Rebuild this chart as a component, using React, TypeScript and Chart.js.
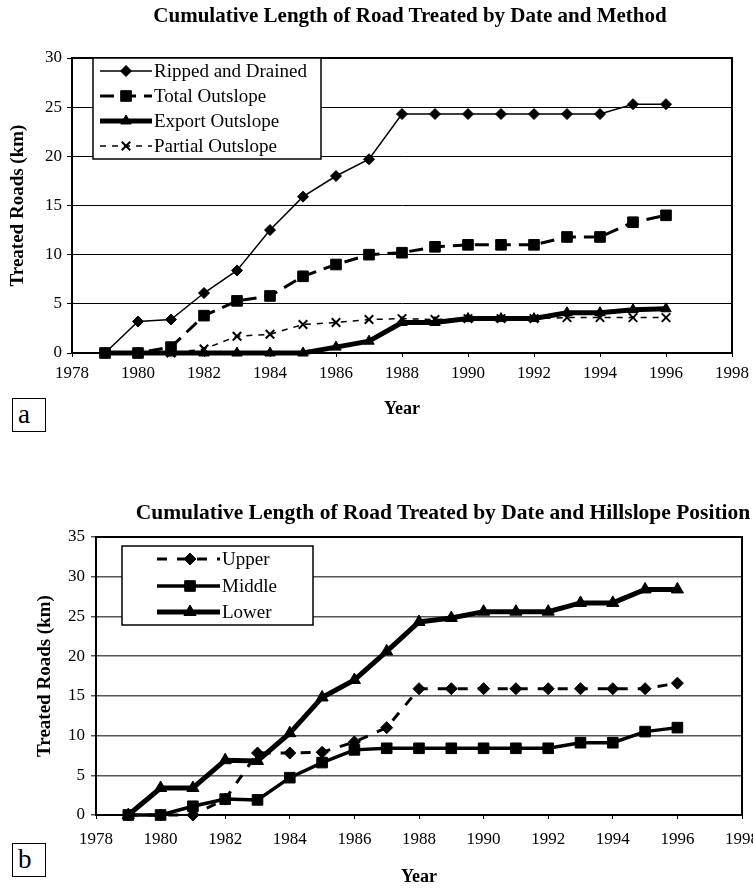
import React, { useEffect, useRef } from 'react';
import { Chart, registerables } from 'chart.js';
import { drawPoint } from 'chart.js/helpers';

Chart.register(...registerables);

// ---------- data ----------
const years = [1979, 1980, 1981, 1982, 1983, 1984, 1985, 1986, 1987, 1988, 1989, 1990, 1991, 1992, 1993, 1994, 1995, 1996];

const rippedAndDrained = [0, 3.2, 3.4, 6.1, 8.4, 12.5, 15.9, 18.0, 19.7, 24.3, 24.3, 24.3, 24.3, 24.3, 24.3, 24.3, 25.3, 25.3];
const totalOutslope = [0, 0, 0.6, 3.8, 5.3, 5.8, 7.8, 9.0, 10.0, 10.2, 10.8, 11.0, 11.0, 11.0, 11.8, 11.8, 13.3, 14.0];
const exportOutslope = [0, 0, 0, 0, 0, 0, 0, 0.6, 1.2, 3.1, 3.1, 3.5, 3.5, 3.5, 4.1, 4.1, 4.4, 4.5];
const partialOutslope = [0, 0, 0, 0.4, 1.7, 1.9, 2.9, 3.1, 3.4, 3.5, 3.4, 3.5, 3.5, 3.5, 3.6, 3.6, 3.6, 3.6];

const upperSlope = [0, 0, 0, 2.0, 7.8, 7.8, 7.9, 9.2, 11.0, 15.9, 15.9, 15.9, 15.9, 15.9, 15.9, 15.9, 15.9, 16.6];
const middleSlope = [0, 0, 1.1, 2.0, 1.9, 4.7, 6.6, 8.2, 8.4, 8.4, 8.4, 8.4, 8.4, 8.4, 9.1, 9.1, 10.5, 11.0];
const lowerSlope = [0, 3.4, 3.4, 6.9, 6.8, 10.3, 14.8, 17.0, 20.6, 24.3, 24.8, 25.6, 25.6, 25.6, 26.7, 26.7, 28.4, 28.4];

const xTickValues = [1978, 1980, 1982, 1984, 1986, 1988, 1990, 1992, 1994, 1996, 1998];

const titleA = 'Cumulative Length of Road Treated by Date and Method';
const titleB = 'Cumulative Length of Road Treated by Date and Hillslope Position';

const FONT = "'Liberation Serif', 'DejaVu Serif', serif";

const pts = (vals: number[]) => years.map((y, i) => ({ x: y, y: vals[i] }));

// ---------- plugins ----------
const framePlugin = {
  id: 'frame',
  afterDatasetsDraw(chart: any, _a: any, opts: any) {
    const { ctx, chartArea } = chart;
    ctx.save();
    ctx.strokeStyle = '#000';
    ctx.lineWidth = opts.width || 2;
    ctx.setLineDash([]);
    ctx.beginPath();
    ctx.moveTo(chartArea.left, chartArea.top);
    ctx.lineTo(chartArea.right, chartArea.top);
    ctx.lineTo(chartArea.right, chartArea.bottom);
    ctx.stroke();
    ctx.restore();
  },
};

const boxLegendPlugin = {
  id: 'boxLegend',
  afterDraw(chart: any, _a: any, o: any) {
    if (!o || !o.box) return;
    const { ctx } = chart;
    const [bx, by, bw, bh] = o.box;
    ctx.save();
    ctx.fillStyle = '#fff';
    ctx.fillRect(bx, by, bw, bh);
    ctx.strokeStyle = '#000';
    ctx.lineWidth = 1.5;
    ctx.setLineDash([]);
    ctx.strokeRect(bx, by, bw, bh);
    ctx.font = o.font;
    ctx.textBaseline = 'middle';
    ctx.textAlign = 'left';
    chart.data.datasets.forEach((ds: any, i: number) => {
      const ry = o.rows[i];
      ctx.strokeStyle = '#000';
      ctx.fillStyle = '#000';
      ctx.lineWidth = ds.borderWidth;
      ctx.setLineDash(ds.borderDash || []);
      ctx.beginPath();
      ctx.moveTo(o.lineX[0], ry);
      ctx.lineTo(o.lineX[1], ry);
      ctx.stroke();
      ctx.setLineDash([]);
      ctx.lineWidth = ds.pointBorderWidth;
      drawPoint(ctx, { pointStyle: ds.pointStyle, radius: ds.pointRadius, rotation: 0, borderWidth: ds.pointBorderWidth } as any, o.markerX, ry);
      ctx.fillStyle = '#000';
      ctx.fillText(ds.label, o.textX, ry + 1);
    });
    ctx.restore();
  },
};

function makeOptions(cfg: any) {
  return {
    responsive: false,
    animation: false,
    layout: { padding: { left: cfg.padL, right: cfg.padR, top: cfg.padT, bottom: 0 } },
    plugins: {
      legend: { display: false },
      title: { display: false },
      tooltip: { enabled: false },
      frame: { width: 2 },
      boxLegend: cfg.legend,
    },
    scales: {
      x: {
        type: 'linear',
        min: 1978,
        max: 1998,
        afterBuildTicks: (s: any) => {
          s.ticks = xTickValues.map((v) => ({ value: v }));
        },
        afterFit: (s: any) => {
          s.height = cfg.xH;
          s.paddingLeft = 0;
          s.paddingRight = 0;
        },
        ticks: {
          autoSkip: false,
          maxRotation: 0,
          padding: cfg.xTickPad,
          color: '#000',
          font: { family: FONT, size: 17 },
          callback: (v: any) => String(v),
        },
        grid: { drawOnChartArea: false, drawTicks: true, tickLength: 4, color: '#000', lineWidth: 1 },
        border: { display: true, color: '#000', width: 2 },
        title: {
          display: true,
          text: 'Year',
          color: '#000',
          font: { family: FONT, size: 18, weight: 'bold' },
          padding: { top: 0, bottom: cfg.xTitlePad },
        },
      },
      y: {
        min: 0,
        max: cfg.yMax,
        afterFit: (s: any) => {
          s.width = cfg.yW;
        },
        ticks: {
          stepSize: 5,
          padding: cfg.yTickPad,
          color: '#000',
          font: { family: FONT, size: 17 },
        },
        grid: { color: cfg.gridColor, lineWidth: cfg.gridWidth, drawTicks: true, tickLength: 5 },
        border: { display: true, color: '#000', width: 2 },
        title: {
          display: true,
          text: 'Treated Roads (km)',
          color: '#000',
          font: { family: FONT, size: 19, weight: 'bold' },
          padding: { top: cfg.yTitlePad, bottom: 0 },
        },
      },
    },
  };
}

function ChartCanvas({ config, width, height, top }: any) {
  const ref = useRef<HTMLCanvasElement>(null);
  useEffect(() => {
    if (!ref.current) return;
    const chart = new Chart(ref.current, config);
    return () => chart.destroy();
  }, []);
  return (
    <canvas
      ref={ref}
      width={width}
      height={height}
      style={{ position: 'absolute', left: 0, top, width, height }}
    />
  );
}

const baseDs = {
  borderColor: '#000',
  backgroundColor: '#000',
  pointBackgroundColor: '#000',
  pointBorderColor: '#000',
  tension: 0,
  clip: false,
  fill: false,
};

const configA: any = {
  type: 'line',
  data: {
    datasets: [
      { ...baseDs, label: 'Ripped and Drained', data: pts(rippedAndDrained), borderWidth: 1.5, pointStyle: 'rectRot', pointRadius: 5.5, pointBorderWidth: 1 },
      { ...baseDs, label: 'Total Outslope', data: pts(totalOutslope), borderWidth: 3, borderDash: [14, 8], pointStyle: 'rect', pointRadius: 7.5, pointBorderWidth: 1 },
      { ...baseDs, label: 'Export Outslope', data: pts(exportOutslope), borderWidth: 5, pointStyle: 'triangle', pointRadius: 6, pointBorderWidth: 1 },
      { ...baseDs, label: 'Partial Outslope', data: pts(partialOutslope), borderWidth: 1.5, borderDash: [6, 6], pointStyle: 'crossRot', pointRadius: 6, pointBorderWidth: 2 },
    ],
  },
  options: makeOptions({
    padL: 0, padR: 21, padT: 58, xH: 70, yW: 72, yMax: 30,
    xTickPad: 6, xTitlePad: 3, yTickPad: 5, yTitlePad: 7,
    gridColor: '#000', gridWidth: 1,
    legend: {
      box: [93, 58, 228, 101],
      rows: [71, 96, 121, 146],
      lineX: [100, 152],
      markerX: 126,
      textX: 154,
      font: `19px ${FONT}`,
    },
  }),
  plugins: [framePlugin, boxLegendPlugin],
};

const configB: any = {
  type: 'line',
  data: {
    datasets: [
      { ...baseDs, label: 'Upper', data: pts(upperSlope), borderWidth: 3, borderDash: [10, 10], pointStyle: 'rectRot', pointRadius: 6, pointBorderWidth: 1 },
      { ...baseDs, label: 'Middle', data: pts(middleSlope), borderWidth: 3.5, pointStyle: 'rect', pointRadius: 7.5, pointBorderWidth: 1 },
      { ...baseDs, label: 'Lower', data: pts(lowerSlope), borderWidth: 5, pointStyle: 'triangle', pointRadius: 7, pointBorderWidth: 1 },
    ],
  },
  options: makeOptions({
    padL: 34, padR: 11, padT: 47, xH: 75, yW: 62, yMax: 35,
    xTickPad: 10, xTitlePad: 2, yTickPad: 6, yTitlePad: 0,
    gridColor: '#555', gridWidth: 1.5,
    legend: {
      box: [122, 56, 191, 79],
      rows: [69, 96, 122],
      lineX: [157, 220],
      markerX: 190,
      textX: 222,
      font: `19px ${FONT}`,
    },
  }),
  plugins: [framePlugin, boxLegendPlugin],
};

const titleStyle = (x: number, y: number, size: number): React.CSSProperties => ({
  position: 'absolute',
  left: x,
  top: y - 13,
  transform: 'translateX(-50%)',
  whiteSpace: 'nowrap',
  fontFamily: FONT,
  fontWeight: 'bold',
  fontSize: size,
  lineHeight: '26px',
  color: '#000',
});

const panelBox = (y: number): React.CSSProperties => ({
  position: 'absolute',
  left: 12,
  top: y,
  width: 34,
  height: 34,
  border: '1.5px solid #000',
  fontFamily: FONT,
  fontSize: 27,
  lineHeight: '30px',
  paddingLeft: 5,
  boxSizing: 'border-box',
  color: '#000',
  background: '#fff',
});

export default function App() {
  return (
    <div style={{ position: 'absolute', left: 0, top: 0, width: 753, height: 890, background: '#fff', overflow: 'hidden' }}>
      <ChartCanvas config={configA} width={753} height={423} top={0} />
      <ChartCanvas config={configB} width={753} height={400} top={490} />
      <div style={titleStyle(410, 15, 21)}>{titleA}</div>
      <div style={titleStyle(443, 512, 21.5)}>{titleB}</div>
      <div style={panelBox(398)}>a</div>
      <div style={panelBox(843)}>b</div>
    </div>
  );
}
